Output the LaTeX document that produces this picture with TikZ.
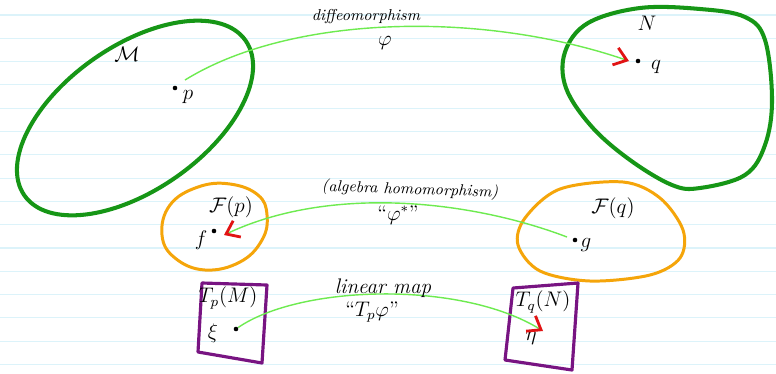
\documentclass[tikz,border=0pt]{standalone}
\usetikzlibrary{arrows.meta}
\definecolor{dkgreen}{RGB}{22,150,22}
\definecolor{ltgreen}{RGB}{110,235,80}
\definecolor{orng}{RGB}{245,165,10}
\definecolor{purp}{RGB}{120,20,130}
\definecolor{redtip}{RGB}{225,20,20}
\definecolor{ruled}{RGB}{220,243,250}
\begin{document}
\begin{tikzpicture}[x=0.02cm,y=-0.02cm,
  rule/.style={draw=ruled,line width=0.6pt},
  gblob/.style={draw=dkgreen,line width=2.3pt},
  oblob/.style={draw=orng,line width=1.7pt},
  pbox/.style={draw=purp,line width=1.8pt,line join=round},
  mapline/.style={draw=ltgreen,line width=0.8pt,
    -{Straight Barb[color=redtip,length=2.4mm,width=3.6mm,line width=1.6pt]}},
  pt/.style={circle,fill=black,inner sep=0pt,minimum size=2.6pt},
  lbl/.style={font=\large,inner sep=1pt},
  sml/.style={font=\small\itshape,inner sep=1pt}]
\useasboundingbox[fill=white] (0,0) rectangle (776,373);
% ruled paper
\foreach \k in {0,...,15}{
  \draw[rule] (0,15+23.3*\k) -- (776,15+23.3*\k);
}
% manifolds
\draw[gblob,rotate around={35:(135,118)}] (135,118) ellipse [x radius=135, y radius=72];
\draw[gblob] plot[smooth cycle,tension=0.6] coordinates{
  (640,8) (700,9) (745,17) (765,40) (772,100) (765,145) (745,175)
  (700,188) (672,185) (630,160) (592,127) (566,88) (565,52) (588,23)};
% function algebras
\draw[oblob] plot[smooth cycle,tension=0.7] coordinates{
  (230,184) (258,195) (267,215) (262,240) (240,262) (205,270)
  (175,258) (162,235) (170,205) (198,187)};
\draw[oblob] plot[smooth cycle,tension=0.55] coordinates{
  (560,189) (623,182) (660,198) (683,230) (680,258) (650,275)
  (590,281) (540,271) (518,245) (525,218)};
% tangent spaces
\draw[pbox] (202,283) -- (267,285) -- (262,363) -- (198,352) -- cycle;
\draw[pbox] (513,288) -- (578,283) -- (572,370) -- (505,360) -- cycle;
% points
\node[pt] (p) at (175,88) {};
\node[pt] (q) at (638,61) {};
\node[pt] (f) at (214,231) {};
\node[pt] (g) at (575,240) {};
\node[pt] (xi) at (236,329) {};
\coordinate (eta) at (543,331);
\coordinate (pstart) at (185,80);
\coordinate (gstart) at (567,237);
\coordinate (qend) at (629,61);
\coordinate (fend) at (224,235);
% labels
\node[lbl] (lM) at (127,54) {$\mathcal{M}$};
\node[lbl] (lN) at (647,23) {$N$};
\node[lbl] (lp) at (188,97) {$p$};
\node[lbl] (lq) at (656,67) {$q$};
\node[lbl] (lFp) at (231,207) {$\mathcal{F}(p)$};
\node[lbl] (lFq) at (613,208) {$\mathcal{F}(q)$};
\node[lbl] (lf) at (201,240) {$f$};
\node[lbl] (lg) at (586,245) {$g$};
\node[lbl] (lTp) at (228,298) {$T_p(M)$};
\node[lbl] (lTq) at (543,302) {$T_q(N)$};
\node[lbl] (lxi) at (213,333) {$\xi$};
\node[lbl] (leta) at (531,338) {$\eta$};
% maps
\draw[mapline] (pstart) .. controls (290,15) and (480,10) .. (qend);
\draw[mapline] (gstart) .. controls (470,200) and (330,185) .. (fend);
\draw[mapline] (xi) .. controls (300,285) and (460,280) .. (eta);
\node[sml] (t1) at (366,17) {diffeomorphism};
\node[lbl] (t2) at (385,43) {$\varphi$};
\node[sml,rotate=-2] (t3) at (410,190) {(algebra homomorphism)};
\node[lbl] (t4) at (398,215) {``$\varphi^{*}$''};
\node[lbl,font=\large\itshape] (t5) at (383,288) {linear map};
\node[lbl] (t6) at (372,312) {``$T_p\varphi$''};
\end{tikzpicture}
\end{document}
